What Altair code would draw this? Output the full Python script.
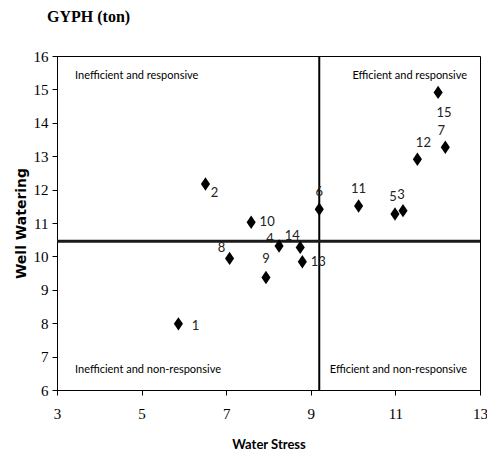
import altair as alt
import pandas as pd

# data
labels = ["1", "2", "3", "4", "5", "6", "7", "8", "9", "10", "11", "12", "13", "14", "15"]
water_stress = [5.87, 6.51, 11.18, 8.25, 10.99, 9.20, 12.18, 7.08, 7.94, 7.59, 10.13, 11.52, 8.80, 8.75, 12.01]
well_watering = [7.98, 12.17, 11.37, 10.31, 11.27, 11.41, 13.27, 9.94, 9.37, 11.02, 11.51, 12.91, 9.84, 10.27, 14.91]
ref_x = [9.2]
ref_y = [10.45]
x_ticks = [3, 5, 7, 9, 11, 13]
y_ticks = [6, 7, 8, 9, 10, 11, 12, 13, 14, 15, 16]
quadrants = ["Inefficient and responsive", "Efficient and responsive",
             "Inefficient and non-responsive", "Efficient and non-responsive"]

# label offsets (pixels) for each point label
label_dx = [17, 9, -2, -9, -2, 0, -4, -8, 0, 16, 0, 6, 16, -8, 6]
label_dy = [2, 9, -16, -7, -17, -17, -16, -10, -18, 0, -17, -16, 0, -11, 21]

df = pd.DataFrame({"label": labels, "x": water_stress, "y": well_watering})

W, H = 423, 334

xscale = alt.Scale(domain=[3, 13], nice=False, zero=False)
yscale = alt.Scale(domain=[6, 16], nice=False, zero=False)
xaxis = alt.Axis(values=x_ticks, grid=False, labelOverlap=False, labelFlush=False, title="Water Stress")
yaxis = alt.Axis(values=y_ticks, grid=False, labelOverlap=False, labelFlush=False, title="Well Watering")

base = alt.Chart(df)

points = base.mark_point(
    shape="M0,-1L0.68,0L0,1L-0.68,0Z", filled=True, color="black", opacity=1, size=180
).encode(
    x=alt.X("x:Q", scale=xscale, axis=xaxis),
    y=alt.Y("y:Q", scale=yscale, axis=yaxis),
)

vline = alt.Chart(pd.DataFrame({"v": ref_x})).mark_rule(color="black", strokeWidth=2).encode(
    x=alt.X("v:Q", scale=xscale, axis=xaxis)
)
hline = alt.Chart(pd.DataFrame({"v": ref_y})).mark_rule(color="#1a1a1a", strokeWidth=3).encode(
    y=alt.Y("v:Q", scale=yscale, axis=yaxis)
)

label_layers = []
for lab, dx, dy in zip(labels, label_dx, label_dy):
    label_layers.append(
        base.transform_filter(alt.datum.label == lab).mark_text(
            font="Lato", fontSize=13, color="#222222", dx=dx, dy=dy,
            align="center", baseline="middle"
        ).encode(x=alt.X("x:Q", scale=xscale, axis=xaxis),
                 y=alt.Y("y:Q", scale=yscale, axis=yaxis), text="label:N")
    )

qdf = pd.DataFrame({"q": quadrants})
q_pos = [(18, 20, "left"), (410, 20, "right"), (18, 314, "left"), (410, 314, "right")]
q_layers = []
for q, (px, py, al) in zip(quadrants, q_pos):
    q_layers.append(
        alt.Chart(qdf).transform_filter(alt.datum.q == q).mark_text(
            font="Lato", fontSize=11, color="black", align=al, baseline="middle"
        ).encode(x=alt.value(px), y=alt.value(py), text="q:N")
    )

chart = alt.layer(vline, hline, points, *label_layers, *q_layers).properties(
    width=W, height=H,
    title=alt.TitleParams("GYPH (ton)", anchor="start", frame="group", dx=-10, offset=24,
                          font="Liberation Serif", fontSize=16, fontWeight="bold", color="black"),
    autosize=alt.AutoSizeParams(type="none"),
    padding={"left": 49, "top": 48, "right": 7, "bottom": 62},
).configure_view(
    stroke="black", strokeWidth=1
).configure_axis(
    domainColor="black", tickColor="black", tickSize=5, labelColor="black",
    labelFont="Liberation Sans Narrow", labelFontSize=15, titleColor="black"
).configure_axisX(
    labelPadding=11, titleFont="Lato", titleFontSize=13, titleFontWeight="bold", titlePadding=17
).configure_axisY(
    labelPadding=4, titleFont="DejaVu Sans", titleFontSize=14, titleFontWeight="bold",
    titlePadding=5
)

chart.save("out.html", embed_options={"renderer": "svg", "actions": False})
